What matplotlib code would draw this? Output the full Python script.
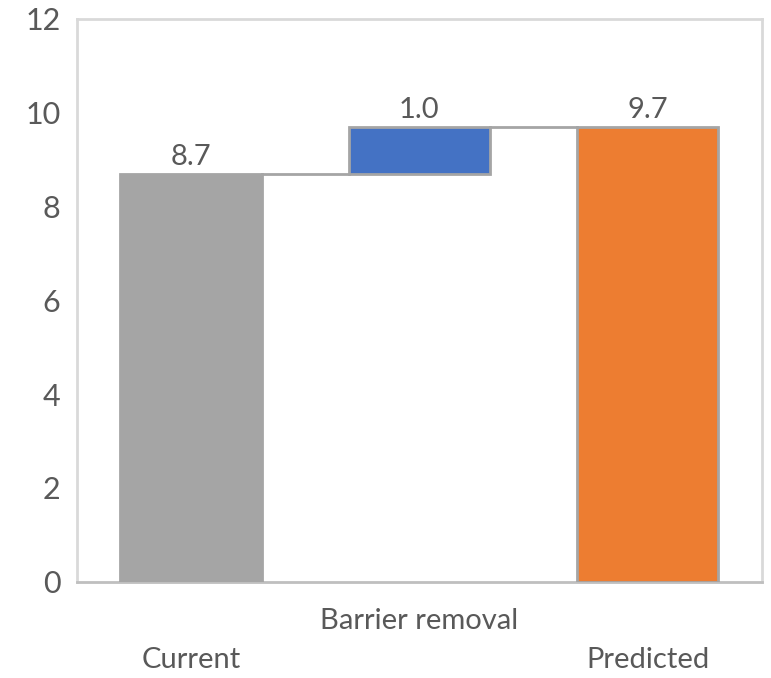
import matplotlib.pyplot as plt
import numpy as np

# waterfall data
categories = ["Current", "Barrier removal", "Predicted"]
current = 8.7
change = 1.0
predicted = 9.7
labels = ["8.7", "1.0", "9.7"]

plt.rcParams['font.family'] = ['Lato', 'DejaVu Sans']

txt = '#595959'
fig = plt.figure(figsize=(7.71, 6.78), dpi=100)
ax = fig.add_axes([0.100, 0.142, 0.888, 0.830])

x = np.arange(len(categories))
w = 0.62
bottoms = [0, current, 0]
heights = [current, change, predicted]
colors = ['#A5A5A5', '#4472C4', '#ED7D31']
ax.bar(x, heights, w, bottom=bottoms, color=colors, edgecolor='#A5A5A5', linewidth=2, zorder=3)

# connector lines
ax.plot([x[0] + w/2, x[1] - w/2], [current, current], color='#A5A5A5', lw=2, zorder=2)
ax.plot([x[1] + w/2, x[2] - w/2], [predicted, predicted], color='#A5A5A5', lw=2, zorder=2)

tops = [current, current + change, predicted]
for xi, t, lab in zip(x, tops, labels):
    ax.text(xi, t + 0.08, lab, ha='center', va='bottom', fontsize=21, color=txt)

ax.set_xlim(-0.5, 2.5)
ax.set_ylim(0, 12)
ax.set_yticks(range(0, 13, 2))
ax.set_xticks(x)
ax.set_xticklabels(categories)
ax.tick_params(length=0, labelsize=21, colors=txt)
ax.tick_params(axis='y', labelsize=22, pad=12)
ticks = ax.xaxis.get_major_ticks()
ticks[0].set_pad(47)
ticks[1].set_pad(19)
ticks[2].set_pad(47)

for s in ax.spines.values():
    s.set_color('#D9D9D9')
    s.set_linewidth(2)
ax.spines['bottom'].set_color('#BFBFBF')

fig.savefig('out.png', dpi=100)
